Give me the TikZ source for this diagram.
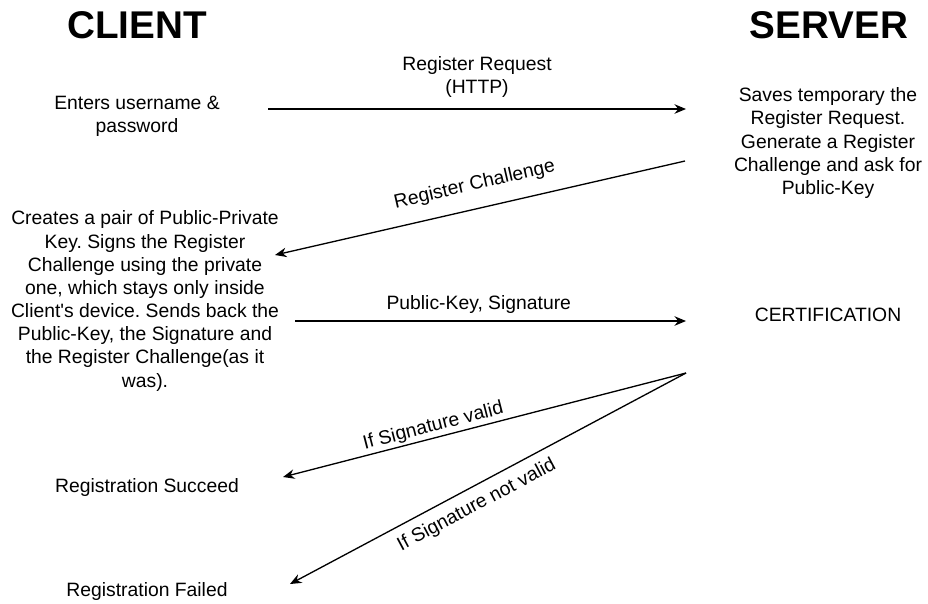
\documentclass[tikz,border=0pt]{standalone}
\usepackage{fontspec}
\setmainfont{Liberation Sans}
\usetikzlibrary{positioning, arrows.meta}
\frenchspacing

\begin{document}
\begin{tikzpicture}[x=0.02cm, y=-0.02cm,
    title/.style={font=\fontsize{22}{26}\selectfont\bfseries},
    txt/.style={align=center, font=\fontsize{11}{13.2}\selectfont, inner sep=1pt},
    msg/.style={-{Stealth[length=2.3mm, width=1.9mm]}, line width=0.75pt},
    lbl/.style={font=\fontsize{11}{13.2}\selectfont, sloped}
]
    \useasboundingbox (0,0) rectangle (928,603);

    % Headers
    \node[title] (client) at (137,25) {CLIENT};
    \node[title] (server) at (829,25) {SERVER};

    % Client side
    \node[txt] (enter) at (137,116) {Enters username \&\\password};
    \node[txt] (create) at (145,301) {Creates a pair of Public-Private\\Key. Signs the Register\\Challenge using the private\\one, which stays only inside\\Client\textquotesingle s device. Sends back the\\Public-Key, the Signature and\\the Register Challenge(as it\\was).};
    \node[txt] (succeed) at (147,487) {Registration Succeed};
    \node[txt] (failed) at (147,591) {Registration Failed};

    % Server side
    \node[txt] (saves) at (828,143) {Saves temporary the\\Register Request.\\Generate a Register\\Challenge and ask for\\Public-Key};
    \node[txt] (cert) at (828,315) {CERTIFICATION};

    % Arrow end points
    \coordinate (reqA) at (268,109);
    \coordinate (reqB) at (686,109);
    \coordinate (chA) at (685,161);
    \coordinate (chB) at (275,255);
    \coordinate (pkA) at (295,321);
    \coordinate (pkB) at (686,321);
    \coordinate (certout) at (686,373);
    \coordinate (okB) at (283,477);
    \coordinate (failB) at (290,584);

    % Messages
    \node[txt] (reqlbl) at (477,77) {Register Request\\(HTTP)};
    \draw[msg] (reqA) -- (reqB);
    \draw[msg] (chA) -- (chB)
        node[lbl, pos=0.5, above, inner sep=8pt] {Register Challenge};
    \draw[msg] (pkA) -- (pkB)
        node[lbl, pos=0.47, above, inner sep=4pt] {Public-Key, Signature};
    \draw[msg] (certout) -- (okB)
        node[lbl, pos=0.62, above, inner sep=1pt] {If Signature valid};
    \draw[msg] (certout) -- (failB)
        node[lbl, pos=0.55, below, inner sep=5pt] {If Signature not valid};

\end{tikzpicture}
\end{document}
